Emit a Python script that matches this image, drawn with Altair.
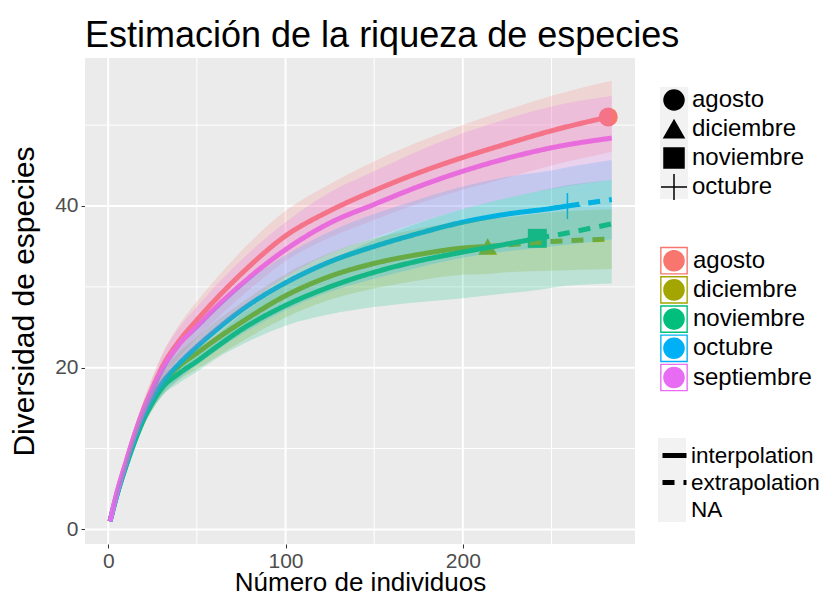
import altair as alt
import pandas as pd

sites = ["agosto", "diciembre", "noviembre", "octubre", "septiembre"]
colors = ["#F8766D", "#A3A500", "#00BF7D", "#00B0F6", "#E76BF3"]

# observed sample size / richness (septiembre's observed point lies beyond the endpoint)
obs_n = {"agosto": 282, "diciembre": 214, "noviembre": 242, "octubre": 259}
obs_s = {"agosto": 51.0, "diciembre": 35.0, "noviembre": 36.0, "octubre": 40.0}

agosto_x = [1, 5, 10, 15, 20, 25, 30, 40, 50, 60, 75, 100, 125, 150, 175, 200, 225, 250, 282, 284]
agosto_est = [1.0, 4.6, 8.3, 11.8, 14.9, 17.5, 19.9, 23.3, 25.9, 28.3, 31.6, 36.3, 39.4, 41.9, 44.1, 46.0, 47.7, 49.3, 51.0, 51.1]
agosto_lo = [1.0, 4.3, 7.7, 10.9, 13.8, 16.1, 18.3, 21.3, 23.6, 25.8, 28.8, 33.2, 36.1, 38.3, 40.3, 42.0, 43.5, 45.0, 46.6, 46.7]
agosto_hi = [1.0, 4.9, 8.9, 12.7, 16.0, 18.9, 21.5, 25.3, 28.2, 30.8, 34.4, 39.4, 42.7, 45.5, 47.9, 50.0, 51.9, 53.6, 55.4, 55.5]

diciembre_x = [1, 5, 10, 15, 20, 25, 30, 40, 50, 60, 75, 100, 125, 150, 175, 200, 214, 225, 250, 284]
diciembre_est = [1.0, 4.4, 7.9, 11.1, 13.8, 16.0, 17.8, 20.2, 21.8, 23.4, 25.6, 28.9, 31.3, 32.9, 34.0, 34.8, 35.0, 35.2, 35.6, 35.9]
diciembre_lo = [1.0, 4.1, 7.4, 10.3, 12.8, 14.8, 16.4, 18.5, 19.8, 21.2, 23.2, 26.2, 28.4, 29.8, 30.8, 31.5, 31.6, 31.8, 32.0, 32.2]
diciembre_hi = [1.0, 4.7, 8.4, 11.9, 14.8, 17.2, 19.2, 21.9, 23.8, 25.6, 28.0, 31.6, 34.2, 36.0, 37.2, 38.1, 38.4, 38.6, 39.2, 39.6]

noviembre_x = [1, 5, 10, 15, 20, 25, 30, 40, 50, 60, 75, 100, 125, 150, 175, 200, 225, 242, 250, 284]
noviembre_est = [1.0, 4.3, 7.8, 10.9, 13.6, 15.7, 17.4, 19.3, 20.8, 22.4, 24.7, 27.7, 30.0, 31.8, 33.2, 34.3, 35.3, 36.0, 36.3, 37.8]
noviembre_lo = [1.0, 4.1, 7.4, 10.4, 12.9, 14.8, 16.4, 18.1, 19.5, 21.0, 22.8, 25.2, 26.6, 27.5, 28.1, 28.6, 29.2, 29.6, 29.9, 30.4]
noviembre_hi = [1.0, 4.5, 8.2, 11.4, 14.3, 16.6, 18.4, 20.5, 22.1, 23.8, 26.6, 30.2, 33.2, 35.8, 37.9, 39.6, 41.0, 41.8, 42.2, 43.2]

octubre_x = [1, 5, 10, 15, 20, 25, 30, 40, 50, 60, 75, 100, 125, 150, 175, 200, 225, 250, 259, 284]
octubre_est = [1.0, 4.4, 8.0, 11.2, 14.0, 16.3, 18.0, 20.5, 22.6, 24.5, 27.1, 30.5, 33.1, 35.0, 36.6, 38.0, 39.0, 39.7, 40.0, 40.8]
octubre_lo = [1.0, 4.1, 7.5, 10.4, 13.0, 15.0, 16.5, 18.6, 20.3, 21.9, 24.1, 27.1, 29.4, 31.0, 32.4, 33.6, 34.4, 35.0, 35.2, 35.9]
octubre_hi = [1.0, 4.7, 8.5, 12.0, 15.0, 17.6, 19.5, 22.4, 24.9, 27.1, 30.1, 33.9, 36.8, 39.0, 40.8, 42.4, 43.6, 44.4, 44.8, 45.7]

septiembre_x = [1, 5, 10, 15, 20, 25, 30, 40, 50, 60, 75, 100, 125, 150, 175, 200, 225, 250, 284]
septiembre_est = [1.0, 4.6, 8.3, 11.8, 14.8, 17.3, 19.6, 22.9, 25.1, 27.3, 30.3, 34.6, 37.9, 40.2, 42.4, 44.3, 45.9, 47.2, 48.4]
septiembre_lo = [1.0, 4.3, 7.7, 10.9, 13.7, 15.9, 17.9, 20.8, 22.7, 24.6, 27.3, 31.2, 34.1, 36.1, 38.0, 39.6, 41.0, 42.1, 43.2]
septiembre_hi = [1.0, 4.9, 8.9, 12.7, 15.9, 18.7, 21.3, 25.0, 27.5, 30.0, 33.3, 38.0, 41.7, 44.3, 46.8, 49.0, 50.8, 52.3, 53.6]

series = {
    "agosto": (agosto_x, agosto_est, agosto_lo, agosto_hi),
    "diciembre": (diciembre_x, diciembre_est, diciembre_lo, diciembre_hi),
    "noviembre": (noviembre_x, noviembre_est, noviembre_lo, noviembre_hi),
    "octubre": (octubre_x, octubre_est, octubre_lo, octubre_hi),
    "septiembre": (septiembre_x, septiembre_est, septiembre_lo, septiembre_hi),
}

methods = ["interpolation", "extrapolation", "NA"]
shape_keys = ["k1", "k2", "k3", "k4"]
dash_keys = ["d1", "d2", "d3"]

x_major = [0, 100, 200]
x_minor = [50, 150, 250]
y_major = [0, 20, 40]
y_minor = [10, 30, 50]

rows = []
for site, (xs, est, lo, hi) in series.items():
    n = obs_n.get(site, 10 ** 6)
    for xv, e, l, h in zip(xs, est, lo, hi):
        if xv <= n:
            rows.append(dict(site=site, x=xv, est=e, lo=l, hi=h, method="interpolation", seg=site + "_i"))
        if xv >= n:
            rows.append(dict(site=site, x=xv, est=e, lo=l, hi=h, method="extrapolation", seg=site + "_e"))
df = pd.DataFrame(rows)
band = df.drop_duplicates(subset=["site", "x"])

pts = pd.DataFrame({
    "site": list(obs_n.keys()),
    "shp": list(obs_n.keys()),
    "x": list(obs_n.values()),
    "est": [obs_s[k] for k in obs_n],
})
plus_pt = pts[pts["site"] == "octubre"]
empty = pd.DataFrame({"k": pd.Series([], dtype=str), "d": pd.Series([], dtype=str)})

FONT = "Liberation Sans"
W, H = 550, 486
PANEL = "#EBEBEB"
xscale = alt.Scale(domain=[-13.1, 297.1], nice=False, zero=False)
yscale = alt.Scale(domain=[-1.8, 58.3], nice=False, zero=False)

xaxis = alt.Axis(title="Número de individuos", values=x_major, grid=False,
                 labelPadding=2, titlePadding=-2, titleFontSize=26)
yaxis = alt.Axis(title="Diversidad de especies", values=y_major, grid=False,
                 labelPadding=3, titlePadding=15)

X = alt.X("x:Q", scale=xscale, axis=xaxis)
Y = alt.Y("est:Q", scale=yscale, axis=yaxis)

# legend key: colored square outline with a filled circle inside
key_path = ("M-1,-1H1V1H-1Z M-0.9,-0.9V0.9H0.9V-0.9Z "
            "M-0.78,0A0.78,0.78,0,1,0,0.78,0A0.78,0.78,0,1,0,-0.78,0Z")
plus_path = "M-1.3,0L1.3,0M0,-1.3L0,1.3"

shape_legend = alt.Legend(
    title=None, orient="none", legendX=577, legendY=30,
    labelFontSize=24, labelFont=FONT, labelColor="black", symbolSize=400,
    rowPadding=-3, gridAlign="all", labelOffset=6, symbolFillColor="black", symbolStrokeColor="black",
    symbolStrokeWidth=1.5, symbolOpacity=1, zindex=2,
)
shape_key_legend = alt.Legend(
    title=None, orient="none", legendX=575, legendY=29,
    labelFontSize=1, labelExpr="''", symbolType="square", symbolSize=784,
    rowPadding=0, gridAlign="all", symbolStrokeWidth=0, symbolOpacity=1, zindex=1,
)
color_legend = alt.Legend(
    title=None, orient="none", legendX=575, legendY=188.7,
    labelFontSize=24, labelFont=FONT, labelColor="black", symbolType=key_path, symbolSize=767,
    rowPadding=1.2, gridAlign="all", labelOffset=5, symbolStrokeWidth=0, symbolOpacity=1, zindex=2,
)
dash_legend = alt.Legend(
    title=None, orient="none", legendX=575, legendY=383,
    labelFontSize=22.5, labelFont=FONT, labelColor="black", symbolType="stroke", symbolSize=576,
    symbolStrokeWidth=5, symbolStrokeColor="black", rowPadding=1, gridAlign="all", labelOffset=2,
    zindex=2,
)
dash_key_legend = alt.Legend(
    title=None, orient="none", legendX=573, legendY=380,
    labelFontSize=1, labelExpr="''", symbolType="square", symbolSize=784,
    rowPadding=0, gridAlign="all", symbolStrokeWidth=0, symbolOpacity=1, zindex=1,
)

color_scale = alt.Scale(domain=sites, range=colors)

panel = alt.Chart(pd.DataFrame({"p": [0]})).mark_rect(color=PANEL).encode(
    x=alt.value(0), x2=alt.value(W), y=alt.value(0), y2=alt.value(H),
)

vmaj = alt.Chart(pd.DataFrame({"x": x_major})).mark_rule(color="white", strokeWidth=2).encode(x=X)
vmin = alt.Chart(pd.DataFrame({"x": x_minor})).mark_rule(color="white", strokeWidth=1).encode(x=X)
hmaj = alt.Chart(pd.DataFrame({"est": y_major})).mark_rule(color="white", strokeWidth=2).encode(y=Y)
hmin = alt.Chart(pd.DataFrame({"est": y_minor})).mark_rule(color="white", strokeWidth=1).encode(y=Y)

points = alt.Chart(pts).mark_point(filled=True, size=361, opacity=1).encode(
    x=X, y=Y,
    color=alt.Color("site:N", scale=color_scale, legend=color_legend),
    shape=alt.Shape("shp:N", scale=alt.Scale(domain=["agosto", "diciembre", "noviembre", "octubre"],
                                              range=["circle", "triangle-up", "square", plus_path]),
                    legend=shape_legend),
)

plus = alt.Chart(plus_pt).mark_point(filled=False, size=400, strokeWidth=1.5, opacity=1).encode(
    x=X, y=Y,
    color=alt.Color("site:N", scale=color_scale, legend=None),
    shape=alt.Shape("shp:N", legend=None),
)

lines = alt.Chart(df).mark_line(strokeWidth=5, opacity=1, interpolate="monotone").encode(
    x=X, y=Y,
    color=alt.Color("site:N", scale=color_scale, legend=None),
    strokeDash=alt.StrokeDash("method:N", scale=alt.Scale(domain=methods, range=[[1, 0], [12, 9], [0, 1000]]),
                              legend=dash_legend),
    detail="seg:N",
)

ribbons = alt.Chart(band).mark_area(fillOpacity=0.2, interpolate="monotone").encode(
    x=X, y=alt.Y("lo:Q", scale=yscale, axis=yaxis), y2="hi:Q",
    color=alt.Color("site:N", scale=color_scale, legend=None),
    detail="site:N",
)

keys = alt.Chart(empty).mark_point(shape="square", filled=True, color="#F2F2F2").encode(
    size=alt.Size("k:O", scale=alt.Scale(domain=shape_keys, range=[784, 784]), legend=shape_key_legend),
    opacity=alt.Opacity("d:O", scale=alt.Scale(domain=dash_keys, range=[1, 1]), legend=dash_key_legend),
)

chart = alt.layer(panel, vmin, vmaj, hmin, hmaj, points, plus, lines, ribbons, keys).properties(
    width=W, height=H,
    background="white",
    title=alt.Title("Estimación de la riqueza de especies", anchor="start", frame="group", fontSize=36,
                    font=FONT, fontWeight="normal", color="black", offset=2),
    autosize=alt.AutoSizeParams(type="none"),
    padding={"left": 77, "top": 50, "right": 188, "bottom": 50},
).configure_view(fill=PANEL, strokeWidth=0).configure_axis(
    domain=False, tickColor="#333333", tickSize=4, tickWidth=1,
    labelColor="#4D4D4D", labelFontSize=21, labelFont=FONT,
    titleFont=FONT, titleFontSize=30, titleFontWeight="normal", titleColor="black",
)

chart.save("out.html", embed_options={"renderer": "svg", "actions": False})
